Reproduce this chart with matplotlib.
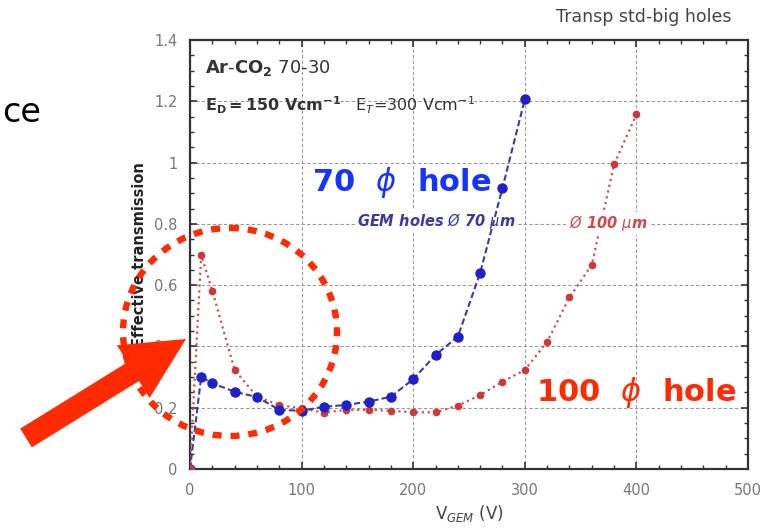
import numpy as np
import matplotlib.pyplot as plt
from matplotlib.patches import Ellipse, FancyArrow

# transmission vs V_GEM
v_70 = [0, 10, 20, 40, 60, 80, 100, 120, 140, 160, 180, 200, 220, 240, 260, 280, 300]
t_70 = [0.0, 0.30, 0.28, 0.252, 0.235, 0.193, 0.19, 0.203, 0.209, 0.22, 0.236,
        0.293, 0.372, 0.432, 0.64, 0.917, 1.206]

v_100 = [0, 10, 20, 40, 60, 80, 100, 120, 140, 160, 180, 200, 220, 240, 260,
         280, 300, 320, 340, 360, 380, 400]
t_100 = [0.0, 0.698, 0.582, 0.323, 0.236, 0.209, 0.198, 0.184, 0.193, 0.193,
         0.19, 0.185, 0.185, 0.207, 0.241, 0.285, 0.323, 0.415, 0.56, 0.666,
         0.994, 1.157]

W, H = 769, 528
fig = plt.figure(figsize=(W / 100, H / 100), dpi=100)
ax = fig.add_axes([190 / W, 1 - 469 / H, 558 / W, 429 / H])

ax.plot(v_100, t_100, ls=':', lw=1.6, color='#d05050', marker='o', ms=4.5,
        mfc='#d03838', mec='#d03838', zorder=3)
ax.plot(v_70, t_70, ls=(0, (3, 1.5)), lw=1.5, color='#3a3aa8', marker='o', ms=6.5,
        mfc='#2020c8', mec='#2020c8', zorder=4)
ax.plot([0], [0], 'o', ms=6, color='#c03060', zorder=5)

ax.set_xlim(0, 500)
ax.set_ylim(0, 1.4)
ax.set_xticks(np.arange(0, 501, 100))
ax.set_yticks(np.arange(0, 1.41, 0.2))
ax.set_yticklabels(['0', '0.2', '0.4', '0.6', '0.8', '1', '1.2', '1.4'])
ax.set_xticks(np.arange(0, 501, 20), minor=True)
ax.set_yticks(np.arange(0, 1.41, 0.05), minor=True)
ax.tick_params(which='both', direction='in', top=True, right=True,
               colors='#333333', labelcolor='#777777', labelsize=10.5)
ax.tick_params(which='major', length=5, width=1.2)
ax.tick_params(which='minor', length=3, width=1.0)
ax.tick_params(axis='x', which='major', pad=10)
ax.tick_params(axis='y', which='major', pad=9)
ax.grid(True, which='major', ls=(0, (3, 2)), lw=0.8, color='#999999')
for s in ax.spines.values():
    s.set_linewidth(1.6)
    s.set_color('#333333')

ax.set_xlabel(r'V$_{GEM}$ (V)', fontsize=12, color='#444444', labelpad=4)
ax.set_ylabel('Effective transmission', fontsize=10.5, color='#222222',
              fontweight='bold', labelpad=5)

ax.text(0.027, 0.935, r'$\mathbf{Ar}$-$\mathbf{CO_2}$ 70-30', transform=ax.transAxes,
        fontsize=13, color='#333333', va='center')
ax.text(0.027, 0.848, r'$\mathbf{E_D}$$\mathbf{=150\ Vcm^{-1}}$   E$_T$=300 Vcm$^{-1}$',
        transform=ax.transAxes, fontsize=11.5, color='#333333', va='center')
ax.text(0.3, 0.577, r'GEM holes $\O$ 70 $\mu$m', transform=ax.transAxes,
        fontsize=10.5, color='#3838a8', style='italic', fontweight='bold',
        va='center', bbox=dict(fc='white', ec='none', pad=1))
ax.text(0.68, 0.573, r'$\O$ 100 $\mu$m', transform=ax.transAxes,
        fontsize=10.5, color='#d04848', style='italic', fontweight='bold',
        va='center', bbox=dict(fc='white', ec='none', pad=1))
fig.text(644 / W, 1 - 17 / H, 'Transp std-big holes', fontsize=12.5,
         color='#444444', ha='center', va='center')

# slide overlay in pixel coordinates
ov = fig.add_axes([0, 0, 1, 1], zorder=10)
ov.set_xlim(0, W)
ov.set_ylim(H, 0)
ov.axis('off')
ov.patch.set_alpha(0)

ov.text(2, 113, 'ce', fontsize=24, ha='left', va='center', color='black')
ov.text(402, 183, r'70  $\phi$  hole', fontsize=22, fontweight='bold',
        color='#1535ff', ha='center', va='center')
ov.text(636, 392, r'100  $\phi$  hole', fontsize=22, fontweight='bold',
        color='#ff2a00', ha='center', va='center')

ov.add_patch(Ellipse((230, 332), 214, 208, fill=False, ec='#ff2a00', lw=4.6,
                     ls=(0, (1.4, 1.4))))
ov.add_patch(FancyArrow(26, 438, 160, -99, width=22, head_width=62,
                        head_length=62, length_includes_head=True,
                        fc='#ff2a00', ec='none'))

fig.savefig('out.png', dpi=100)
